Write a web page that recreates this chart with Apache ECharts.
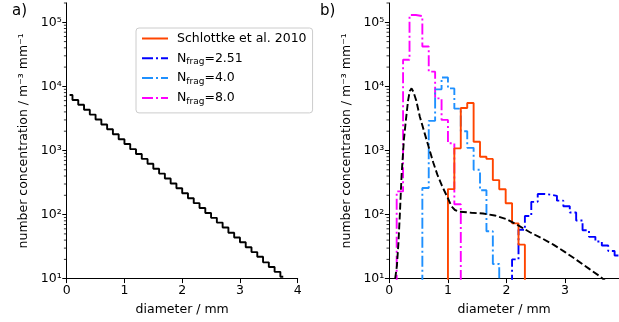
<!DOCTYPE html>
<html>
<head>
<meta charset="utf-8">
<script src="https://cdn.jsdelivr.net/npm/echarts@6/dist/echarts.min.js"></script>
<style>
  html, body { margin: 0; padding: 0; background: #fff; }
  #chart { width: 619px; height: 322px; }
</style>
</head>
<body>
<div id="chart"></div>
<script>
// panel a: exponential size distribution (bin centres, mm)
const diamA = [0.05, 0.15, 0.25, 0.35, 0.45, 0.55, 0.65, 0.75, 0.85, 0.95,
  1.05, 1.15, 1.25, 1.35, 1.45, 1.55, 1.65, 1.75, 1.85, 1.95,
  2.05, 2.15, 2.25, 2.35, 2.45, 2.55, 2.65, 2.75, 2.85, 2.95,
  3.05, 3.15, 3.25, 3.35, 3.45, 3.55, 3.65, 3.75];
const numA = [7350, 6150, 5160, 4330, 3630, 3040, 2550, 2140, 1790, 1500,
  1260, 1050, 880, 740, 620, 520, 436, 366, 306, 257,
  215, 180, 151, 127, 106, 89, 75, 63, 52, 44,
  37, 31, 26, 22, 18, 15.2, 12.8, 10.7];

// panel b: shared histogram bin edges (mm)
const binEdges = [0.126, 0.235, 0.345, 0.454, 0.564, 0.673, 0.782, 0.892, 1.001, 1.11,
  1.22, 1.33, 1.439, 1.548, 1.658, 1.767, 1.876, 1.986, 2.095, 2.205,
  2.314, 2.423, 2.533, 2.642, 2.751, 2.861, 2.97, 3.08, 3.189, 3.298,
  3.408, 3.517, 3.627, 3.736, 3.845, 3.955];

// first bin index + values per bin
const schlottkeStart = 8;
const schlottke = [250, 1080, 4600, 5500, 1370, 800, 740, 345, 248, 150, 73, 34];
const frag251Start = 18;
const frag251 = [20, 58, 95, 158, 210, 205, 196, 165, 135, 108, 81, 57, 45, 38, 33, 27, 23];
const frag4Start = 4;
const frag4 = [260, 2900, 9000, 13800, 9300, 4500, 2000, 1100, 500, 240, 55, 17];
const frag8Start = 0;
const frag8 = [230, 26000, 130000, 125000, 42000, 17000, 6500, 3000, 1300, 145];

// dashed reference curve
const curveD = [0.1, 0.13, 0.155, 0.18, 0.21, 0.25, 0.28, 0.32, 0.35, 0.38,
  0.41, 0.46, 0.52, 0.6, 0.67, 0.75, 0.82, 0.9, 1.0, 1.06,
  1.12, 1.2, 1.4, 1.6, 1.8, 2.0, 2.2, 2.4, 2.6, 2.8,
  3.0, 3.2, 3.4, 3.6, 3.7];
const curveN = [10, 16, 35, 100, 420, 1500, 2800, 6000, 8500, 9300,
  8300, 6000, 3400, 1900, 1150, 650, 420, 280, 180, 135,
  118, 111, 107, 104, 97, 85, 68, 53, 43, 34,
  26, 19.5, 14.5, 10.8, 9];

const yTicks = [10, 100, 1000, 10000, 100000];
const xTicksA = [0, 1, 2, 3, 4];
const xTicksB = [0, 1, 2, 3];
const sup = {1: '\u00b9', 2: '\u00b2', 3: '\u00b3', 4: '\u2074', 5: '\u2075'};

const FONT = 'DejaVu Sans';
const FS = 12.5;
const FLOOR = 1; // below the axis minimum, gets clipped

const minorTicks = [];
for (let p = 1; p <= 5; p++) {
  for (let m = 2; m <= 9; m++) {
    const v = m * Math.pow(10, p);
    if (v <= 2e5) minorTicks.push(v);
  }
}

function histPoints(start, vals) {
  const pts = [[binEdges[start], FLOOR]];
  vals.forEach((v, i) => {
    pts.push([binEdges[start + i], v], [binEdges[start + i + 1], v]);
  });
  pts.push([binEdges[start + vals.length], FLOOR]);
  return pts;
}

const dashDot = [11, 3, 2, 3];

function xAxisFor(gi, max, ticks) {
  return {
    type: 'value', gridIndex: gi, min: 0, max: max,
    axisLine: {onZero: false, lineStyle: {color: '#000', width: 1}},
    axisTick: {customValues: ticks, length: 4.4, lineStyle: {color: '#000', width: 1}},
    axisLabel: {customValues: ticks, color: '#000', fontSize: FS, fontFamily: FONT, margin: 5.5},
    splitLine: {show: false},
    name: 'diameter / mm', nameLocation: 'middle', nameGap: 25,
    nameTextStyle: {color: '#000', fontSize: FS, fontFamily: FONT}
  };
}
function yAxisFor(gi) {
  return {
    type: 'log', logBase: 10, gridIndex: gi, min: 10, max: 2e5, position: 'left',
    axisLine: {show: true, lineStyle: {color: '#000', width: 1}},
    axisTick: {show: true, customValues: yTicks, length: 4.4, lineStyle: {color: '#000', width: 1}},
    axisLabel: {
      customValues: yTicks, color: '#000', fontSize: FS, fontFamily: FONT, margin: 5,
      formatter: v => '10' + sup[Math.round(Math.log10(v))]
    },
    splitLine: {show: false},
    name: 'number concentration / m\u207b\u00b3 mm\u207b\u00b9',
    nameLocation: 'middle', nameGap: 36,
    nameTextStyle: {color: '#000', fontSize: FS, fontFamily: FONT}
  };
}
// minor log ticks (2..9 x 10^n) on the left spine, placed through the axis scale
function minorTickSeries(gi) {
  return {
    type: 'custom', xAxisIndex: gi, yAxisIndex: gi, silent: true, clip: false, z: 5,
    data: minorTicks.map(v => [0, v]),
    renderItem: (params, api) => {
      const p = api.coord([0, api.value(1)]);
      return {
        type: 'line',
        shape: {x1: p[0] - 2.8, y1: p[1], x2: p[0], y2: p[1]},
        style: {stroke: '#000', lineWidth: 0.8}
      };
    }
  };
}

const chart = echarts.init(document.getElementById('chart'), null, {renderer: 'canvas'});
chart.setOption({
  animation: false,
  backgroundColor: '#fff',
  title: [
    {text: 'a)', left: 12, top: 4, padding: 0, textStyle: {fontSize: 15, fontWeight: 'normal', color: '#000', fontFamily: FONT}},
    {text: 'b)', left: 320, top: 4, padding: 0, textStyle: {fontSize: 15, fontWeight: 'normal', color: '#000', fontFamily: FONT}}
  ],
  grid: [
    {left: 66.7, top: 3, width: 231, height: 275.7},
    {left: 389.3, top: 3, width: 229.7, height: 275.7}
  ],
  xAxis: [xAxisFor(0, 4, xTicksA), xAxisFor(1, 3.92, xTicksB)],
  yAxis: [yAxisFor(0), yAxisFor(1)],
  legend: {
    data: ['Schlottke et al. 2010', 'N_frag=2.51', 'N_frag=4.0', 'N_frag=8.0'],
    orient: 'vertical', left: 136, top: 28,
    padding: [2.5, 6, 7, 5], itemGap: 3.8, itemWidth: 26, itemHeight: 12,
    backgroundColor: 'rgba(255,255,255,0.8)', borderColor: '#cccccc', borderWidth: 1, borderRadius: 3,
    itemStyle: {color: 'rgba(0,0,0,0)', borderColor: 'rgba(0,0,0,0)', borderWidth: 0},
    formatter: name => name.replace('_frag', '{sub|frag}'),
    textStyle: {
      color: '#000', fontSize: FS, fontFamily: FONT, lineHeight: 16, padding: [0, 0, 0, 4],
      rich: {sub: {fontSize: 9, fontFamily: FONT, color: '#000', verticalAlign: 'bottom', lineHeight: 16}}
    }
  },
  series: [
    minorTickSeries(0),
    minorTickSeries(1),
    {
      type: 'line', xAxisIndex: 0, yAxisIndex: 0, step: 'middle', showSymbol: false, symbol: 'none',
      data: diamA.map((d, i) => [d, numA[i]]),
      lineStyle: {color: '#000', width: 1.9}, itemStyle: {color: '#000'}, silent: true
    },
    {
      name: 'N_frag=8.0', type: 'line', xAxisIndex: 1, yAxisIndex: 1, symbol: 'none', clip: true,
      data: histPoints(frag8Start, frag8),
      lineStyle: {color: '#ff00ff', width: 1.9, type: dashDot}, itemStyle: {color: '#ff00ff'}
    },
    {
      name: 'N_frag=4.0', type: 'line', xAxisIndex: 1, yAxisIndex: 1, symbol: 'none', clip: true,
      data: histPoints(frag4Start, frag4),
      lineStyle: {color: '#1e90ff', width: 1.9, type: dashDot}, itemStyle: {color: '#1e90ff'}
    },
    {
      name: 'N_frag=2.51', type: 'line', xAxisIndex: 1, yAxisIndex: 1, symbol: 'none', clip: true,
      data: histPoints(frag251Start, frag251),
      lineStyle: {color: '#0000ff', width: 1.9, type: dashDot}, itemStyle: {color: '#0000ff'}
    },
    {
      name: 'Schlottke et al. 2010', type: 'line', xAxisIndex: 1, yAxisIndex: 1, symbol: 'none', clip: true,
      data: histPoints(schlottkeStart, schlottke),
      lineStyle: {color: '#ff4500', width: 1.9}, itemStyle: {color: '#ff4500'}
    },
    {
      type: 'line', xAxisIndex: 1, yAxisIndex: 1, symbol: 'none', clip: true,
      data: curveD.map((d, i) => [d, curveN[i]]),
      lineStyle: {color: '#000', width: 1.9, type: [6.9, 3]}, itemStyle: {color: '#000'}
    }
  ]
});
</script>
</body>
</html>
